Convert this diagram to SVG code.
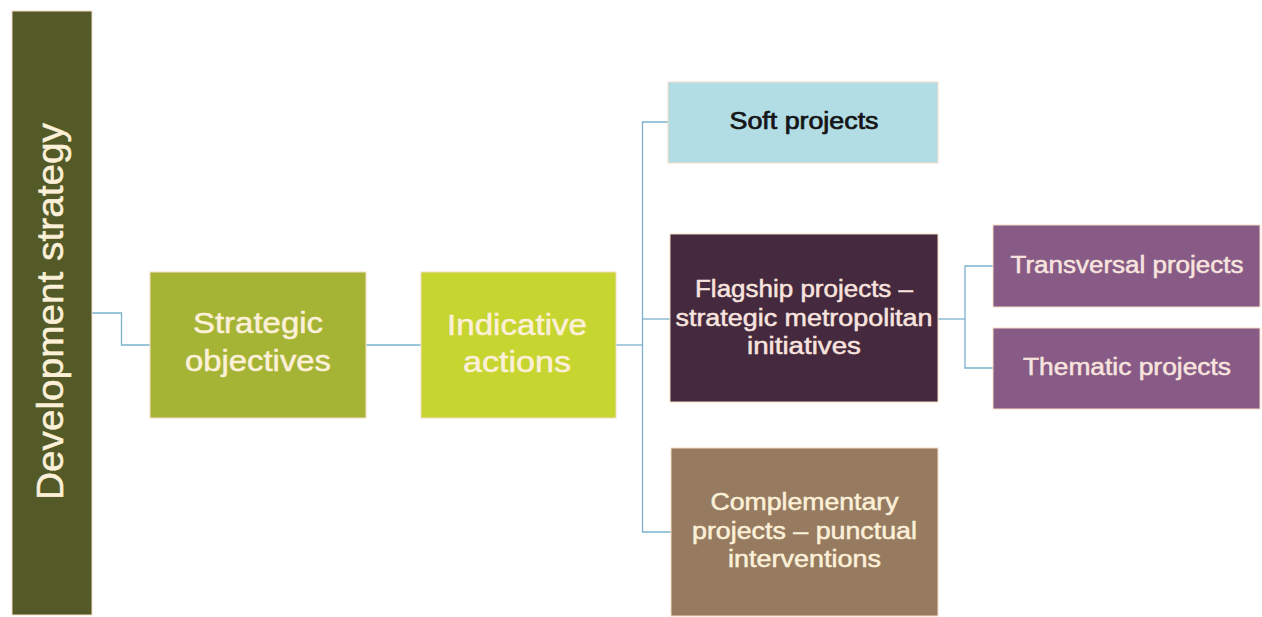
<svg xmlns="http://www.w3.org/2000/svg" width="1262" height="617" viewBox="0 0 1262 617">
<style>
.box{stroke:#f5dcc6;stroke-width:1}
.t{font-family:"Liberation Sans",Arial,sans-serif;text-anchor:middle;fill:#fcf0d8;stroke:#fcf0d8;stroke-width:0.5}
.pk{fill:#f8e4de;stroke:#f8e4de}
.dk{fill:#151515;stroke:#151515;stroke-width:0.7}
.big{font-size:29px}
.mid{font-size:23px}
.conn{fill:none;stroke:#7ab2cc;stroke-width:1.3}
</style>
<rect width="1262" height="617" fill="#ffffff"/>
<g id="connectors">
<path class="conn" d="M92,313 H121.5 V345 H150"/>
<path class="conn" d="M366,345 H421"/>
<path class="conn" d="M616,345 H642.5"/>
<path class="conn" d="M668,122 H642.5 V532 H671"/>
<path class="conn" d="M642.5,319 H670"/>
<path class="conn" d="M938,319 H965"/>
<path class="conn" d="M993,266 H965 V368 H993"/>
</g>
<g id="development-strategy">
<rect class="box" x="12" y="11" width="80" height="604" fill="#535a27"/>
<text class="t" transform="translate(63,311.5) rotate(-90)" font-size="36" textLength="377" lengthAdjust="spacingAndGlyphs">Development strategy</text>
</g>
<g id="strategic-objectives">
<rect class="box" x="150" y="272" width="216" height="146" fill="#a6b436"/>
<text class="t big" x="258" y="333" textLength="130" lengthAdjust="spacingAndGlyphs">Strategic</text>
<text class="t big" x="258" y="371" textLength="146" lengthAdjust="spacingAndGlyphs">objectives</text>
</g>
<g id="indicative-actions">
<rect class="box" x="421" y="272" width="195" height="146" fill="#c6d52f"/>
<text class="t big" x="517" y="335" textLength="140" lengthAdjust="spacingAndGlyphs">Indicative</text>
<text class="t big" x="517" y="372" textLength="108" lengthAdjust="spacingAndGlyphs">actions</text>
</g>
<g id="soft-projects">
<rect class="box" x="668" y="82" width="270" height="81" fill="#b3dde5"/>
<text class="t mid dk" x="804" y="129" textLength="149" lengthAdjust="spacingAndGlyphs">Soft projects</text>
</g>
<g id="flagship-projects">
<rect class="box" x="670" y="234" width="268" height="168" fill="#45293f"/>
<text class="t mid pk" x="804" y="297" textLength="218" lengthAdjust="spacingAndGlyphs">Flagship projects –</text>
<text class="t mid pk" x="804" y="325.5" textLength="257" lengthAdjust="spacingAndGlyphs">strategic metropolitan</text>
<text class="t mid pk" x="804" y="354" textLength="114" lengthAdjust="spacingAndGlyphs">initiatives</text>
</g>
<g id="transversal-projects">
<rect class="box" x="993" y="225" width="267" height="82" fill="#875b86"/>
<text class="t mid pk" x="1127" y="273" textLength="233" lengthAdjust="spacingAndGlyphs">Transversal projects</text>
</g>
<g id="thematic-projects">
<rect class="box" x="993" y="328" width="267" height="81" fill="#875b86"/>
<text class="t mid pk" x="1127" y="375" textLength="208" lengthAdjust="spacingAndGlyphs">Thematic projects</text>
</g>
<g id="complementary-projects">
<rect class="box" x="671" y="448" width="267" height="168" fill="#967b61"/>
<text class="t mid" x="804.5" y="510" textLength="188" lengthAdjust="spacingAndGlyphs">Complementary</text>
<text class="t mid" x="804.5" y="538.5" textLength="225" lengthAdjust="spacingAndGlyphs">projects – punctual</text>
<text class="t mid" x="804.5" y="567" textLength="153" lengthAdjust="spacingAndGlyphs">interventions</text>
</g>
</svg>
